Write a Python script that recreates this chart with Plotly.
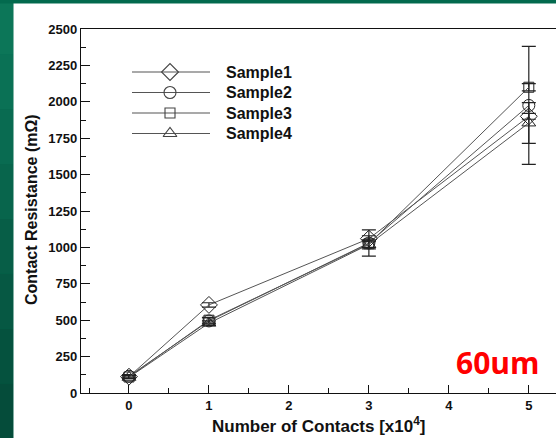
import plotly.graph_objects as go

# Contact resistance vs. number of contacts (60um probe)
contacts = [0, 1, 3, 5]
sample_names = ["Sample1", "Sample2", "Sample3", "Sample4"]
sample1 = [112, 605, 1060, 1900]
sample2 = [115, 495, 1030, 1975]
sample3 = [110, 500, 1025, 2100]
sample4 = [108, 480, 1020, 1855]
err1 = [10, 15, 20, 20]
err2 = [12, 20, 90, 405]
err3 = [10, 20, 25, 25]
err4 = [10, 15, 30, 140]
y_ticks = [0, 250, 500, 750, 1000, 1250, 1500, 1750, 2000, 2250, 2500]
x_ticks = [0, 1, 2, 3, 4, 5]

series = [sample1, sample2, sample3, sample4]
errors = [err1, err2, err3, err4]
symbols = ["diamond-open", "circle-open", "square-open", "triangle-up-open"]
sizes = [13, 12, 10, 12]

W, H = 556, 438
ML, MR, MT, MB = 81, 0, 29, 45
PW, PH = W - ML - MR, H - MT - MB


def px_x(p):
    return (p - ML) / PW


def px_y(p):
    return (H - MB - p) / PH


fig = go.Figure()

for name, vals, err, sym, sz in zip(sample_names, series, errors, symbols, sizes):
    fig.add_trace(go.Scatter(
        x=contacts, y=vals, name=name, mode="lines+markers",
        line=dict(color="#555555", width=1),
        marker=dict(symbol=sym, size=sz, color="#222222",
                    line=dict(color="#222222", width=1)),
        error_y=dict(type="data", array=err, visible=True,
                     color="#222222", thickness=1.2, width=7),
        showlegend=False,
    ))

# Legend block drawn on an overlay axis in plot-fraction units
leg_rows = [72, 92.5, 113, 133.5]
lx0, lxm, lx1, ltx = px_x(132), px_x(170), px_x(210), px_x(224)
for name, sym, sz, ry in zip(sample_names, symbols, sizes, leg_rows):
    yy = px_y(ry)
    fig.add_trace(go.Scatter(
        x=[lx0, lx1], y=[yy, yy], mode="lines", xaxis="x2", yaxis="y2",
        line=dict(color="#555555", width=1.2), showlegend=False, hoverinfo="skip"))
    fig.add_trace(go.Scatter(
        x=[lxm], y=[yy], mode="markers", xaxis="x2", yaxis="y2",
        marker=dict(symbol=sym, size=sz, color="#444444",
                    line=dict(color="#444444", width=1.1)),
        showlegend=False, hoverinfo="skip"))
    fig.add_annotation(x=ltx, y=yy, xref="x2", yref="y2", text=name,
                       showarrow=False, xanchor="left", yanchor="middle",
                       font=dict(family="Liberation Sans", size=16, color="#111111",
                                 weight="bold"))

# Background: green slide frame with white panel
shapes = []
greens = ["#0c7658", "#0a7155", "#096b51", "#08654c", "#075e47", "#065843",
          "#05523e", "#054c3a"]
n = len(greens)
for i, c in enumerate(greens):
    y_top = px_y(i * H / n)
    y_bot = px_y((i + 1) * H / n)
    shapes.append(dict(type="rect", xref="paper", yref="paper",
                       x0=px_x(0), x1=px_x(13.5), y0=y_bot, y1=y_top,
                       fillcolor=c, line=dict(width=0), layer="below"))
shapes.append(dict(type="rect", xref="paper", yref="paper",
                   x0=px_x(0), x1=px_x(W + 2), y0=px_y(3.5), y1=px_y(-2),
                   fillcolor="#036a4e", line=dict(width=0), layer="below"))
shapes.append(dict(type="rect", xref="paper", yref="paper",
                   x0=px_x(13.5), x1=px_x(W + 2), y0=px_y(H + 2), y1=px_y(3.5),
                   fillcolor="white", line=dict(width=0), layer="below"))

tick_font = dict(family="Liberation Sans", size=13, color="#111111", weight="bold")
title_font = dict(family="Liberation Sans", size=17, color="#111111", weight="bold")

fig.add_annotation(x=(px_x(ML) + 1) / 2, y=px_y(425), xref="paper", yref="paper",
                   text="Number of Contacts [x10<sup>4</sup>]", showarrow=False,
                   xanchor="center", yanchor="middle", font=title_font)
fig.add_annotation(x=px_x(31), y=px_y(210), xref="paper", yref="paper",
                   text="Contact Resistance (mΩ)", showarrow=False, textangle=-90,
                   xanchor="center", yanchor="middle",
                   font=dict(family="Liberation Sans", size=16, color="#111111",
                             weight="bold"))
fig.add_annotation(x=px_x(497), y=px_y(362), xref="paper", yref="paper",
                   text="60um", showarrow=False, xanchor="center", yanchor="middle",
                   font=dict(family="Open Sans", size=30, color="#ff0000", weight="bold"))

fig.update_layout(
    width=W, height=H,
    margin=dict(l=ML, r=MR, t=MT, b=MB),
    paper_bgcolor="#036a4e", plot_bgcolor="rgba(0,0,0,0)",
    shapes=shapes,
    xaxis=dict(range=[-0.6, 5.34], tickvals=x_ticks, ticks="inside", ticklen=8,
               tickwidth=1, tickcolor="#111111",
               minor=dict(dtick=0.5, tick0=0, ticks="inside", ticklen=5,
                          tickcolor="#111111"),
               showline=True, linecolor="#111111", linewidth=1.3, mirror=True,
               showgrid=False, zeroline=False, tickfont=tick_font, fixedrange=True),
    yaxis=dict(range=[0, 2500], tickvals=y_ticks, ticks="inside", ticklen=9,
               tickwidth=1, tickcolor="#111111",
               minor=dict(dtick=125, tick0=0, ticks="inside", ticklen=5,
                          tickcolor="#111111"),
               showline=True, linecolor="#111111", linewidth=1.3, mirror=False,
               showgrid=False, zeroline=False, tickfont=tick_font, fixedrange=True),
    xaxis2=dict(range=[0, 1], overlaying="x", visible=False, fixedrange=True),
    yaxis2=dict(range=[0, 1], overlaying="y", visible=False, fixedrange=True),
    showlegend=False,
)

fig.write_html("out.html")
